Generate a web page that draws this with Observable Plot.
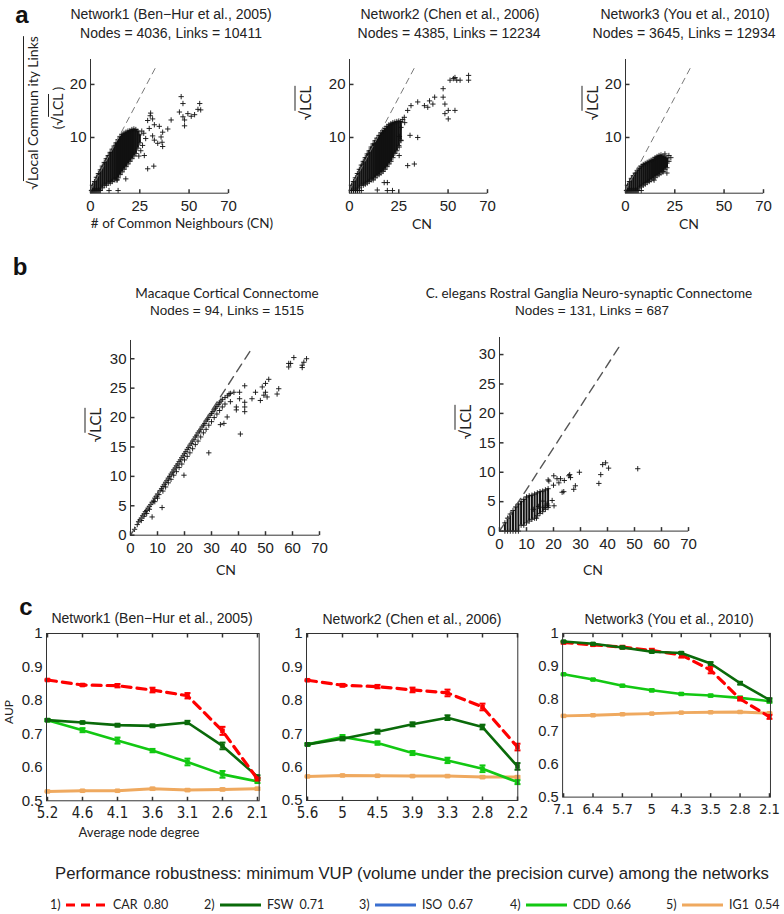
<!DOCTYPE html>
<html><head><meta charset="utf-8">
<script src="https://cdn.jsdelivr.net/npm/d3@7"></script>
<script src="https://cdn.jsdelivr.net/npm/@observablehq/plot@0.6"></script>
<style>
body{margin:0;background:#fff;}
#fig{position:relative;width:784px;height:914px;background:#fff;font-family:"Liberation Sans",Arial,Helvetica,sans-serif;color:#222;overflow:hidden}
.t{position:absolute;white-space:nowrap;transform:translate(-50%,-50%);line-height:1;}
.l{position:absolute;white-space:nowrap;transform:translate(0,-50%);line-height:1;}
.panel{position:absolute;}
.ov{text-decoration:overline;}
</style></head><body><div id="fig"></div>
<script>
// ---------------- DATA ----------------
// Panel a: dense cloud ranges [CN, min sqrt(LCL), max sqrt(LCL)] and separate points [CN, sqrt(LCL)]
const net1Cloud = [[1,0,1],[2,0,1.7],[3,0,2.5],[4,0,3.2],[5,0,3.9],[6,0.5,4.6],[7,1,5.3],[8,1,6],[9,1.4,6.6],[10,1.4,7.2],[11,1.7,7.8],[12,2,8.4],[13,2,9],[14,2.4,9.6],[15,3,10.2],[16,3.5,10.6],[17,4,10.8],[18,4.5,11],[19,5,11.2],[20,5.5,11.3],[21,6,11.5],[22,6.5,11.6],[23,7,11.5],[24,8,11.2],[25,9,10.5]];
const net1Points = [[0.5,0],[1.5,0],[2.5,0],[3.5,0],[4.5,0],[9.4,0],[14,0],[13.6,2.0],[17.9,2.2],[29,4.1],[32.1,4.6],[27.3,6.6],[26.4,8.5],[29.8,11.7],[29,13.2],[30.3,14.1],[31.5,13.5],[32.4,12.4],[30.5,14.6],[34.9,12.1],[36.6,11.0],[39.2,11.6],[35.8,10.1],[36.3,9.1],[36.6,8.3],[31.5,10.3],[32.4,9.5],[34.1,8.9],[40.9,13.3],[46,17.7],[46.9,16.4],[45.1,14.8],[46.9,13.9],[47.7,13.3],[47.7,12.2],[49.4,14.5],[51.1,14],[52.8,14.3],[54.5,15.3],[55.4,16.4],[55.9,15.2],[26,11.2],[27,10.8],[28,9.8],[25.5,7.5],[24.5,6.5]];
const net2Cloud = [[1,0,1],[2,0,1.7],[3,0,2.4],[4,0,3.2],[5,0.5,4],[6,1,4.8],[7,1,5.5],[8,1.2,6.2],[9,1.4,6.9],[10,1.7,7.5],[11,2,8.2],[12,2,8.8],[13,2.4,9.4],[14,2.8,9.9],[15,3,10.4],[16,3.3,10.9],[17,3.6,11.3],[18,4,11.7],[19,4.5,12.1],[20,5,12.4],[21,5.5,12.6],[22,6.2,12.8],[23,7,12.9],[24,7.5,13],[25,8.5,13.1],[26,9.5,13]];
const net2Points = [[1,0],[2,0],[3,0],[4,0],[5,0],[6,0],[14.1,0.1],[19.2,0],[21.8,0],[17.6,1.5],[19.2,1.5],[29.5,4.7],[32.9,5],[30.7,10.4],[34.6,10.0],[25.3,10.2],[25.2,6.6],[27.8,13.8],[29.5,15.1],[31.2,16.0],[34.6,16.7],[38,16],[39.7,15.7],[40.6,16.9],[43.2,17.6],[42.3,16.3],[47.5,19.2],[47.5,17.6],[48.4,16.3],[48.4,14.5],[50.1,13.5],[50.1,15.1],[53.5,15.1],[51,20.8],[52.7,21.1],[54.4,20.8],[56.1,20.8],[60.4,21.7],[60.4,20.8],[53.5,21.3],[26.1,11.9],[26.1,9.4],[25.2,8.2],[28,12.8],[27,13.4]];
const net3Cloud = [[1,0,1],[2,0,1.7],[3,0,2.3],[4,0,2.8],[5,0,3.3],[6,0,3.8],[7,0.5,4.2],[8,0.7,4.6],[9,1,4.9],[10,1.2,5.1],[11,1.5,5.3],[12,1.7,5.5],[13,2,5.7],[14,2.2,5.9],[15,2.5,6.2],[16,2.8,6.4],[17,3,6.6],[18,3.3,6.7],[19,3.6,6.5],[20,4,6.3],[21,4.3,6.1]];
const net3Points = [[0.5,0],[1.5,0],[2.5,0],[3.5,0],[4.5,0],[5.5,0],[6.5,0],[8,0],[14.5,1.96],[22,5.5],[21,3.3],[20,6.9],[22,6.6],[19,3.5],[23,6.2]];
const refLineA = [[0,0],[33.6,23.6]];
const ticksAx = [0,25,50,70];
const ticksAy = [10,20];

// Panel b
const macaquePoints = [[1.5,1.0],[2.5,1.8],[3,2.3],[3.5,2.6],[4,2.9],[4,2.5],[4.5,3.3],[5,3.6],[5,3.2],[5.5,4.0],[6,4.2],[6,3.7],[6.5,4.6],[7,4.9],[7,4.4],[7.5,5.2],[8,5.6],[8,3.1],[8.5,5.8],[9,6.3],[9,5.7],[9.5,6.6],[10,7.0],[10,6.3],[10.5,6.9],[11,7.6],[11.5,7.9],[12,8.3],[12,7.5],[11.7,4.7],[12.5,8.6],[13,9.0],[13,8.2],[13.5,9.3],[14,9.7],[14,8.9],[14.5,10.0],[15,10.4],[15,9.5],[15.5,10.7],[16,11.1],[16,10.2],[16.5,11.4],[17,11.8],[17,10.8],[17.5,12.1],[18,12.5],[18,11.5],[18.5,12.8],[19,13.2],[19,12.1],[19.5,13.5],[19.8,10.2],[20,13.9],[20,12.8],[20.5,14.2],[21,14.6],[21,13.4],[21.5,14.9],[22,15.3],[22,14.0],[22.5,15.6],[23,16.0],[23,14.7],[23.5,16.3],[24,16.7],[24,15.4],[24.5,17.0],[25,17.4],[25,16.0],[25.5,17.7],[26,18.0],[26,16.7],[26.5,18.4],[27,18.7],[27,17.4],[27.5,19.0],[28,19.4],[28,18.0],[28.5,19.7],[29,20.0],[29,18.7],[29,14.0],[29.5,20.4],[30,20.7],[30,19.3],[30.5,21.0],[31,21.3],[31,20.0],[31.5,21.6],[32,21.9],[32,20.6],[32.5,22.2],[33,22.5],[33,21.2],[33.3,18.8],[33.5,22.8],[34,23.1],[34,21.8],[34.6,19.0],[35,23.4],[35,22.3],[35.8,20.1],[36,23.7],[36.5,24.0],[37,24.1],[37,22.7],[38.3,24.3],[39.2,21.8],[39.2,21.3],[40.4,24.3],[40.4,23.2],[40.7,17.2],[42.3,25.4],[42.3,22.6],[42.3,21.8],[42.3,21.0],[45,23.2],[46.3,24.3],[48.1,22.9],[48.8,25.2],[49.4,23.8],[50,25.8],[50,24.3],[50.6,23.5],[51.2,26.5],[54.3,24.0],[54.9,24.9],[58.6,28.6],[58.6,29.2],[59.3,29.2],[60.5,30.2],[63.6,28.5],[63.6,28.9],[64.2,29.4],[65.2,30.0]];
const elegansCloud = [[2,0,1.4],[3,0,2.2],[4,0,2.9],[5,0,3.5],[6,0,4.1],[7,0,4.6],[8,1,5.0],[9,1,5.4],[10,1.4,5.8],[11,1.7,6.0],[12,2,6.1],[13,2.2,6.3],[14,2.6,6.5],[15,3,6.7],[16,3.3,6.8],[17,3.7,7.0],[18,4,7.2]];
const elegansPoints = [[13.7,2.2],[15.9,5.1],[17.6,4.6],[18,4.3],[19.5,5.2],[20.2,4.3],[18,8.7],[18.3,8.5],[20.1,9.4],[21.3,8.9],[22.6,8.9],[23.2,6.6],[23.8,6.7],[25.7,9.4],[26.3,9.1],[26,9.6],[27.5,7.1],[28.1,7.7],[29.6,10.0],[20,7.8],[22,8.2],[24,8.6],[36.8,8.1],[37.5,9.6],[38.2,11.3],[39.3,11.6],[40.4,10.7],[51.2,10.6],[16.5,4.0],[14.5,4.2],[12.5,3.7]];
const refLineB = [[0,0],[45,31.8]];
const ticksBx = [0,10,20,30,40,50,60,70];
const ticksBy = [0,5,10,15,20,25,30];

// Panel c: AUP versus average node degree
const degrees1 = ["5.2","4.6","4.1","3.6","3.1","2.6","2.1"];
const degrees2 = ["5.6","5","4.5","3.9","3.3","2.8","2.2"];
const degrees3 = ["7.1","6.4","5.7","5","4.3","3.5","2.8","2.1"];
const car1 = [0.861,0.846,0.844,0.831,0.814,0.709,0.565];
const fsw1 = [0.741,0.734,0.726,0.724,0.734,0.664,0.572];
const cdd1 = [0.741,0.711,0.680,0.650,0.616,0.579,0.558];
const ig1_1 = [0.528,0.530,0.530,0.536,0.532,0.534,0.536];
const car2 = [0.860,0.845,0.841,0.831,0.822,0.780,0.660];
const fsw2 = [0.668,0.685,0.706,0.728,0.748,0.720,0.602];
const cdd2 = [0.668,0.690,0.672,0.642,0.620,0.595,0.555];
const ig1_2 = [0.572,0.575,0.574,0.573,0.573,0.570,0.570];
const car3 = [0.972,0.965,0.958,0.948,0.934,0.888,0.800,0.745];
const fsw3 = [0.975,0.968,0.957,0.944,0.940,0.908,0.848,0.797];
const cdd3 = [0.875,0.859,0.840,0.826,0.815,0.810,0.803,0.793];
const ig1_3 = [0.748,0.750,0.753,0.755,0.758,0.759,0.760,0.756];
const car1Err = [0.002,0.003,0.005,0.007,0.008,0.012,0.004];
const fsw1Err = [0.003,0.003,0.004,0.004,0.005,0.010,0.004];
const cdd1Err = [0.003,0.006,0.009,0.005,0.010,0.010,0.005];
const ig1Err1 = [0.002,0.002,0.002,0.003,0.003,0.003,0.003];
const car2Err = [0.002,0.004,0.005,0.007,0.010,0.010,0.010];
const fsw2Err = [0.003,0.005,0.006,0.006,0.007,0.007,0.010];
const cdd2Err = [0.003,0.006,0.005,0.006,0.008,0.010,0.006];
const ig1Err2 = [0.002,0.002,0.002,0.002,0.002,0.003,0.003];
const car3Err = [0.003,0.003,0.004,0.005,0.008,0.010,0.005,0.006];
const fsw3Err = [0.002,0.002,0.003,0.003,0.003,0.004,0.004,0.005];
const cdd3Err = [0.002,0.002,0.003,0.003,0.003,0.003,0.004,0.005];
const ig1Err3 = [0.002,0.002,0.002,0.002,0.002,0.002,0.002,0.002];
const aupTicks = [0.5,0.6,0.7,0.8,0.9,1];

// Legend
const methods = ["CAR","FSW","ISO","CDD","IG1"];
const minVUP = ["0.80","0.71","0.67","0.66","0.54"];
const methodColors = ["#ff0000","#0a6a0a","#3a6fd0","#12c812","#efa95f"];

// ---------------- DRAWING ----------------
const fig = document.getElementById("fig");
const tickFont = '"Liberation Sans", Arial, Helvetica, sans-serif';
const humanFont = 'Lato, "Open Sans", sans-serif';
const narrowFont = '"Liberation Sans Narrow", "Arial Narrow", "DejaVu Sans Condensed", sans-serif';

function addText(html, x, y, st = {}, rot = false, cls = "t") {
  const d = document.createElement("div");
  d.className = cls;
  d.innerHTML = html;
  d.style.left = x + "px"; d.style.top = y + "px";
  Object.assign(d.style, st);
  if (rot) d.style.transform = "translate(-50%,-50%) rotate(-90deg)";
  fig.appendChild(d);
  return d;
}
function place(svg, left, top) {
  const d = document.createElement("div");
  d.className = "panel";
  d.style.left = left + "px"; d.style.top = top + "px";
  d.appendChild(svg);
  fig.appendChild(d);
}
const cross = {draw(ctx, size) { const r = Math.sqrt(size) / 2; ctx.moveTo(-r, 0); ctx.lineTo(r, 0); ctx.moveTo(0, -r); ctx.lineTo(0, r); }};
const tickUp = {draw(ctx) { ctx.moveTo(0, 0); ctx.lineTo(0, -4); }};
const tickDown = {draw(ctx) { ctx.moveTo(0, 0); ctx.lineTo(0, 4); }};
const tickRight = {draw(ctx) { ctx.moveTo(0, 0); ctx.lineTo(4, 0); }};
const tickLeft = {draw(ctx) { ctx.moveTo(0, 0); ctx.lineTo(-4, 0); }};
const cap = {draw(ctx) { ctx.moveTo(-3, 0); ctx.lineTo(3, 0); }};

function scatterPanel(o) {
  const ml = 40, mr = 18, mt = 8, mb = 32;
  const svg = Plot.plot({
    width: o.fw + ml + mr, height: o.fh + mt + mb,
    marginLeft: ml, marginRight: mr, marginTop: mt, marginBottom: mb,
    x: {domain: o.xd}, y: {domain: o.yd},
    style: {fontSize: o.fs + "px", fontFamily: tickFont, color: "#222", background: "transparent", overflow: "visible"},
    marks: [
      o.cloud ? Plot.ruleX(o.cloud, {x: d => d[0], y1: d => d[1], y2: d => d[2], stroke: "#111", strokeWidth: o.cloudW}) : null,
      o.cloud ? Plot.dot(o.cloud, {x: d => d[0], y: d => d[2], symbol: cross, r: 3, stroke: "#111", fill: "none", strokeWidth: 0.9}) : null,
      o.cloud ? Plot.dot(o.cloud, {x: d => d[0], y: d => d[1], symbol: cross, r: 3, stroke: "#111", fill: "none", strokeWidth: 0.9}) : null,
      Plot.dot(o.pts, {x: d => d[0], y: d => d[1], symbol: cross, r: 3, stroke: "#111", fill: "none", strokeWidth: 0.9}),
      Plot.line(o.ref, {x: d => d[0], y: d => d[1], stroke: o.refColor, strokeWidth: o.refW, strokeDasharray: o.refDash}),
      Plot.ruleX([o.xd[0]], {stroke: "#333"}),
      Plot.ruleY([o.yd[0]], {stroke: "#333"}),
      Plot.dot(o.xt, {x: d => d, y: o.yd[0], symbol: tickUp, stroke: "#333", fill: "none"}),
      Plot.dot(o.yt, {x: o.xd[0], y: d => d, symbol: tickRight, stroke: "#333", fill: "none"}),
      Plot.axisX(o.xt, {tickSize: 0, tickPadding: o.padX, label: null}),
      Plot.axisY(o.yt, {tickSize: 0, tickPadding: o.padY, label: null})
    ]
  });
  place(svg, o.x0 - ml, o.y0 - mt);
}

// Panel a
const aCommon = {fw: 138, fh: 133.7, y0: 59, xd: [0, 70], yd: [-0.5, 24.7], xt: ticksAx, yt: ticksAy, fs: 15, padX: 7, padY: 4,
  cloudW: 2.2, ref: refLineA, refColor: "#777", refW: 1, refDash: "6,5"};
scatterPanel({...aCommon, x0: 90, cloud: net1Cloud, pts: net1Points});
scatterPanel({...aCommon, x0: 349, cloud: net2Cloud, pts: net2Points});
scatterPanel({...aCommon, x0: 625, cloud: net3Cloud, pts: net3Points});

// Panel b
const bCommon = {fw: 189, xd: [0, 70], xt: ticksBx, yt: ticksBy, fs: 15, padX: 7, padY: 4,
  cloudW: 2, ref: refLineB, refColor: "#555", refW: 1.4, refDash: "9,6"};
scatterPanel({...bCommon, x0: 130, y0: 340, fh: 194.7, yd: [0, 33.1], cloud: null, pts: macaquePoints});
scatterPanel({...bCommon, x0: 499, y0: 336.7, fh: 193.6, yd: [0, 32.9], cloud: elegansCloud, pts: elegansPoints});

// Panel c
function aupPanel(x0, y0, fw, fh, cats, series) {
  const ml = 46, mr = 14, mt = 6, mb = 26;
  const last = cats[cats.length - 1];
  const marks = [];
  for (const s of series) {
    const rows = cats.map((c, i) => ({c, v: s.vals[i], e: s.err[i]}));
    marks.push(Plot.line(rows, {x: "c", y: "v", stroke: s.color, strokeWidth: s.w, strokeDasharray: s.dash || null}));
    marks.push(Plot.ruleX(rows, {x: "c", y1: d => d.v - d.e, y2: d => d.v + d.e, stroke: s.color, strokeWidth: 2}));
    marks.push(Plot.dot(rows, {x: "c", y: d => d.v - d.e, symbol: cap, stroke: s.color, fill: "none", strokeWidth: 2}));
    marks.push(Plot.dot(rows, {x: "c", y: d => d.v + d.e, symbol: cap, stroke: s.color, fill: "none", strokeWidth: 2}));
    marks.push(Plot.dot(rows, {x: "c", y: "v", symbol: "square", r: 2.6, fill: s.color, stroke: "none"}));
  }
  const svg = Plot.plot({
    width: fw + ml + mr, height: fh + mt + mb,
    marginLeft: ml, marginRight: mr, marginTop: mt, marginBottom: mb,
    x: {type: "point", domain: cats, padding: 0},
    y: {domain: [0.5, 1]},
    style: {fontSize: "15px", fontFamily: tickFont, color: "#222", background: "transparent", overflow: "visible"},
    marks: [
      ...marks,
      Plot.frame({stroke: "#333"}),
      Plot.dot(cats, {x: d => d, y: 0.5, symbol: tickUp, stroke: "#333", fill: "none"}),
      Plot.dot(cats, {x: d => d, y: 1, symbol: tickDown, stroke: "#333", fill: "none"}),
      Plot.dot(aupTicks, {x: cats[0], y: d => d, symbol: tickRight, stroke: "#333", fill: "none"}),
      Plot.dot(aupTicks, {x: last, y: d => d, symbol: tickLeft, stroke: "#333", fill: "none"}),
      Plot.axisX({tickSize: 0, tickPadding: 7, label: null, fontFamily: narrowFont}),
      Plot.axisY(aupTicks, {tickSize: 0, tickPadding: 4, label: null, tickFormat: d => d === 1 ? "1" : d.toFixed(1)})
    ]
  });
  place(svg, x0 - ml, y0 - mt);
}
const sty = (i, w, dash) => ({color: methodColors[i], w, dash});
aupPanel(46, 632.7, 212.7, 167.3, degrees1, [
  {...sty(4, 3), vals: ig1_1, err: ig1Err1},
  {...sty(3, 2.6), vals: cdd1, err: cdd1Err},
  {...sty(1, 2.6), vals: fsw1, err: fsw1Err},
  {...sty(0, 3.2, "9,6"), vals: car1, err: car1Err}
]);
aupPanel(306, 633, 211.3, 167, degrees2, [
  {...sty(4, 3), vals: ig1_2, err: ig1Err2},
  {...sty(3, 2.6), vals: cdd2, err: cdd2Err},
  {...sty(1, 2.6), vals: fsw2, err: fsw2Err},
  {...sty(0, 3.2, "9,6"), vals: car2, err: car2Err}
]);
aupPanel(563.3, 633, 212, 167, degrees3, [
  {...sty(4, 3), vals: ig1_3, err: ig1Err3},
  {...sty(3, 2.6), vals: cdd3, err: cdd3Err},
  {...sty(0, 3.2, "9,6"), vals: car3, err: car3Err},
  {...sty(1, 2.6), vals: fsw3, err: fsw3Err}
]);

// ---------------- TEXT ----------------
const bold = {fontWeight: "bold", fontSize: "24px", fontFamily: tickFont, color: "#111"};
addText("a", 22, 15, bold);
addText("b", 20, 267, bold);
addText("c", 26, 607, bold);
const ttl = {fontSize: "14px", fontFamily: tickFont};
addText("Network1 (Ben−Hur et al., 2005)", 171, 14, ttl);
addText("Nodes = 4036, Links = 10411", 171, 33, ttl);
addText("Network2 (Chen et al., 2006)", 450, 14, ttl);
addText("Nodes = 4385, Links = 12234", 449, 33, ttl);
addText("Network3 (You et al., 2010)", 685, 14, ttl);
addText("Nodes = 3645, Links = 12934", 684, 33, ttl);
const hum = {fontSize: "14px", fontFamily: humanFont};
addText('√<span class="ov">Local Commun ity Links</span>', 33, 113, hum, true);
addText('(√<span class="ov">LCL</span> )', 58, 108, hum, true);
addText("# of Common Neighbours (CN)", 182, 224, {fontSize: "13.5px", fontFamily: humanFont});
addText('√<span class="ov">LCL</span>', 305, 103, {fontSize: "15px", fontFamily: humanFont}, true);
addText('√<span class="ov">LCL</span>', 592, 103, {fontSize: "15px", fontFamily: humanFont}, true);
addText("CN", 422, 224, {fontSize: "14px", fontFamily: humanFont});
addText("CN", 689, 224, {fontSize: "14px", fontFamily: humanFont});

addText("Macaque Cortical Connectome", 227, 294, {fontSize: "13.5px", fontFamily: humanFont});
addText("Nodes = 94, Links = 1515", 227, 311, {fontSize: "13.5px", fontFamily: tickFont});
addText("C. elegans Rostral Ganglia Neuro-synaptic Connectome", 589, 294, {fontSize: "13.5px", fontFamily: humanFont});
addText("Nodes = 131, Links = 687", 592, 311, {fontSize: "13.5px", fontFamily: tickFont});
addText('√<span class="ov">LCL</span>', 95, 425, {fontSize: "15px", fontFamily: humanFont}, true);
addText('√<span class="ov">LCL</span>', 465, 422, {fontSize: "15px", fontFamily: humanFont}, true);
addText("CN", 226, 570, {fontSize: "14px", fontFamily: humanFont});
addText("CN", 593, 570, {fontSize: "14px", fontFamily: humanFont});

addText("Network1 (Ben−Hur et al., 2005)", 152, 618, ttl);
addText("Network2 (Chen et al., 2006)", 412, 619, ttl);
addText("Network3 (You et al., 2010)", 669, 619, ttl);
addText("AUP", 9, 712, {fontSize: "12px", fontFamily: humanFont}, true);
addText("Average node degree", 139, 832, {fontSize: "13px", fontFamily: humanFont});

addText("Performance robustness: minimum VUP (volume under the precision curve) among the networks", 412, 874, {fontSize: "16.7px", fontFamily: tickFont, color: "#222"});

// Legend
const legendLefts = [50, 204, 359, 510, 666];
const legFont = {fontSize: "12.5px", fontFamily: humanFont, color: "#222"};
methods.forEach((m, i) => {
  const left = legendLefts[i];
  addText((i + 1) + ")", left, 905, legFont, false, "l");
  const sv = d3.create("svg").attr("width", 42).attr("height", 10)
    .style("position", "absolute").style("left", (left + 16) + "px").style("top", "900px");
  sv.append("line").attr("x1", 0).attr("x2", 41).attr("y1", 5).attr("y2", 5)
    .attr("stroke", methodColors[i]).attr("stroke-width", 3)
    .attr("stroke-dasharray", i === 0 ? "9,6" : null);
  fig.appendChild(sv.node());
  addText(`${m}<span style="margin-left:6px">${minVUP[i]}</span>`, left + 63, 905, legFont, false, "l");
});
</script>
</body></html>
